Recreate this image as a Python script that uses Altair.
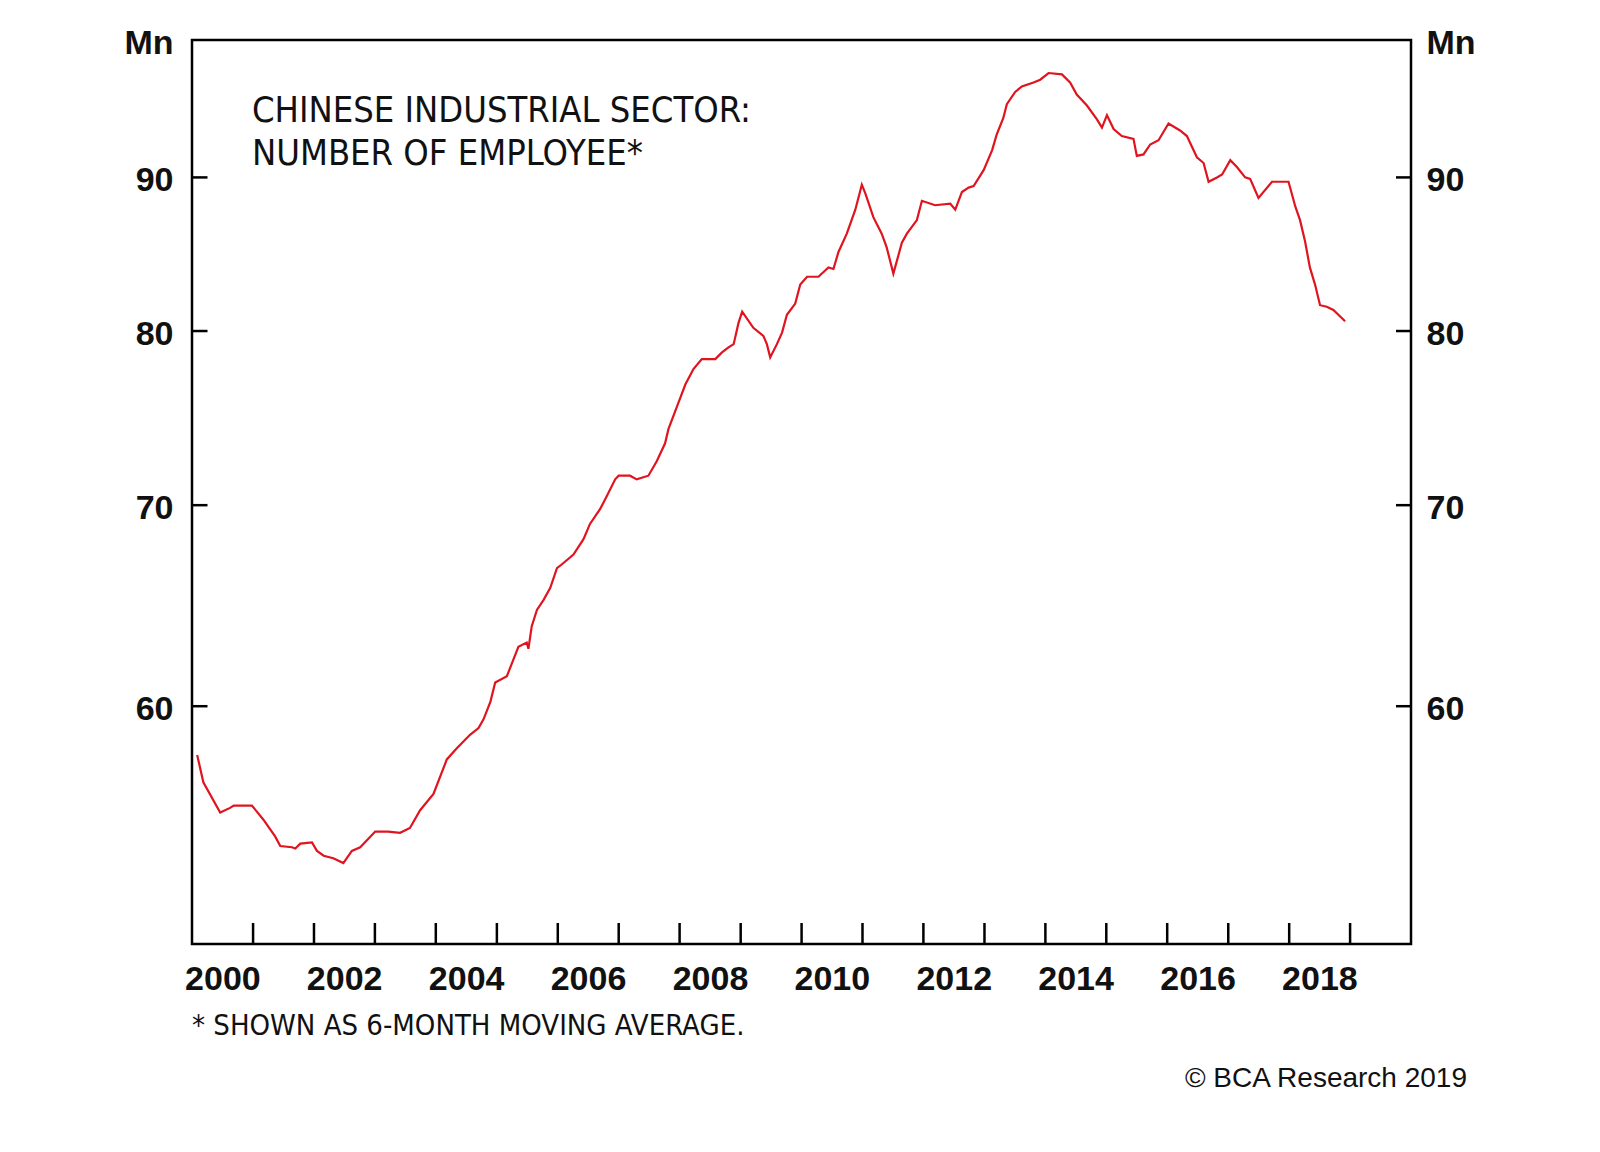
import altair as alt
import pandas as pd

# ---- data (6-month moving average, millions) ----
dates = [
    "2000-02-01", "2000-03-09", "2000-06-18", "2000-08-16", "2000-09-07", "2000-12-25",
    "2001-03-04", "2001-05-13", "2001-06-13", "2001-08-22", "2001-09-11", "2001-10-11",
    "2001-12-20", "2002-01-19", "2002-02-28", "2002-04-27", "2002-06-26", "2002-08-16",
    "2002-10-05", "2003-01-03", "2003-03-22", "2003-06-01", "2003-07-30", "2003-09-29",
    "2003-12-18", "2004-03-07", "2004-05-06", "2004-07-24", "2004-09-13", "2004-10-13",
    "2004-11-23", "2004-12-22", "2005-03-02", "2005-04-01", "2005-05-10", "2005-06-29",
    "2005-07-09", "2005-07-29", "2005-08-29", "2005-10-08", "2005-11-17", "2005-12-27",
    "2006-01-26", "2006-04-05", "2006-06-04", "2006-07-13", "2006-09-12", "2006-10-22",
    "2006-12-11", "2007-01-01", "2007-03-10", "2007-04-19", "2007-06-28", "2007-08-17",
    "2007-10-06", "2007-10-26", "2008-01-05", "2008-02-05", "2008-03-24", "2008-05-13",
    "2008-08-02", "2008-09-11", "2008-10-20", "2008-11-20", "2008-12-19", "2009-01-10",
    "2009-03-18", "2009-05-17", "2009-06-07", "2009-06-27", "2009-08-06", "2009-09-06",
    "2009-10-05", "2009-11-24", "2009-12-24", "2010-02-03", "2010-04-12", "2010-06-11",
    "2010-07-11", "2010-08-10", "2010-09-29", "2010-11-19", "2010-12-28", "2011-01-18",
    "2011-03-07", "2011-04-26", "2011-05-26", "2011-07-05", "2011-08-25", "2011-09-24",
    "2011-11-23", "2011-12-23", "2012-03-11", "2012-06-10", "2012-07-10", "2012-08-19",
    "2012-09-28", "2012-10-28", "2012-12-27", "2013-02-16", "2013-03-15", "2013-04-24",
    "2013-05-15", "2013-07-04", "2013-08-13", "2013-10-22", "2013-12-01", "2014-01-20",
    "2014-04-10", "2014-05-29", "2014-07-08", "2014-09-07", "2014-11-06", "2014-12-06",
    "2015-01-05", "2015-02-14", "2015-04-04", "2015-06-13", "2015-07-03", "2015-08-12",
    "2015-09-21", "2015-11-10", "2016-01-09", "2016-03-18", "2016-04-28", "2016-06-27",
    "2016-08-06", "2016-09-05", "2016-10-25", "2016-11-25", "2017-01-13", "2017-02-23",
    "2017-04-12", "2017-05-12", "2017-07-01", "2017-09-20", "2017-12-28", "2018-02-07",
    "2018-03-07", "2018-04-06", "2018-05-05", "2018-06-05", "2018-07-05", "2018-08-14",
    "2018-09-23", "2018-12-02",
]
employees = [
    57.8, 56.6, 55.3, 55.5, 55.6, 55.6,
    55.0, 54.3, 53.9, 53.85, 53.8, 54.0,
    54.05, 53.7, 53.5, 53.4, 53.2, 53.7,
    53.85, 54.5, 54.5, 54.45, 54.65, 55.4,
    56.1, 57.6, 58.1, 58.7, 59.0, 59.4,
    60.2, 61.1, 61.4, 62.0, 62.8, 63.0,
    62.7, 63.8, 64.6, 65.1, 65.7, 66.7,
    66.9, 67.4, 68.2, 69.0, 69.8, 70.5,
    71.4, 71.6, 71.6, 71.4, 71.6, 72.4,
    73.4, 74.2, 76.0, 76.8, 77.7, 78.3,
    78.3, 78.7, 79.0, 79.2, 80.5, 81.2,
    80.2, 79.7, 79.2, 78.4, 79.2, 79.9,
    81.0, 81.7, 82.9, 83.4, 83.4, 84.0,
    83.9, 85.0, 86.2, 87.8, 89.5, 88.9,
    87.3, 86.2, 85.3, 83.6, 85.6, 86.2,
    87.1, 88.4, 88.1, 88.2, 87.8, 89.0,
    89.3, 89.4, 90.5, 91.9, 93.0, 94.2,
    95.2, 96.1, 96.5, 96.8, 97.0, 97.5,
    97.4, 96.8, 95.9, 95.1, 94.1, 93.5,
    94.4, 93.4, 92.9, 92.7, 91.5, 91.6,
    92.3, 92.6, 93.8, 93.3, 92.9, 91.4,
    91.0, 89.7, 90.0, 90.2, 91.2, 90.7,
    90.0, 89.9, 88.6, 89.7, 89.7, 88.0,
    87.1, 85.7, 84.0, 82.9, 81.6, 81.5,
    81.3, 80.6,
]

y_ticks = [60, 70, 80, 90]
y_label_values = [60, 70, 80, 90, 100]
year_ticks = [f"{y}-01-01" for y in range(2001, 2020)]
label_years = list(range(2000, 2019, 2))

title_lines = ["CHINESE INDUSTRIAL SECTOR:", "NUMBER OF EMPLOYEE*"]
footnote = "* SHOWN AS 6-MONTH MOVING AVERAGE."
credit = "\u00a9 BCA Research 2019"

W, H = 1219, 904
AXIS_FONT = "Liberation Sans, Arial, sans-serif"
NARROW_FONT = "Liberation Sans Narrow, Arial Narrow, DejaVu Sans Condensed, Liberation Sans, sans-serif"

df = pd.DataFrame({"date": dates, "value": employees})
df_yt = pd.DataFrame({"value": y_ticks})
df_xt = pd.DataFrame({"date": year_ticks})

x_dom = [alt.DateTime(year=2000, month=1, date=1, utc=True),
         alt.DateTime(year=2020, month=1, date=1, utc=True)]
x_scale = alt.Scale(domain=x_dom)
y_scale = alt.Scale(type="log", domain=[50, 100], nice=False)

label_vals = [alt.DateTime(year=y, month=7, date=1, utc=True) for y in label_years]

y_axis_common = dict(
    values=y_label_values,
    labelExpr="datum.value == 100 ? 'Mn' : format(datum.value, 'd')",
    grid=False, domain=False, ticks=False, tickSize=0,
    labelFont=AXIS_FONT, labelFontSize=34, labelFontWeight="bold",
    labelColor="#111111", title=None, labelOffset=3,
)

line = alt.Chart(df).mark_line(color="#e0141e", strokeWidth=2.2).encode(
    x=alt.X("date:T", scale=x_scale,
            axis=alt.Axis(values=label_vals, labelExpr="utcFormat(datum.value, '%Y')",
                          grid=False, domain=False, ticks=False, tickSize=0,
                          labelPadding=18, labelFont=AXIS_FONT, labelFontSize=34,
                          labelFontWeight="bold", labelColor="#111111", title=None,
                          labelFlush=False, labelOverlap=False)),
    y=alt.Y("value:Q", scale=y_scale,
            axis=alt.Axis(orient="left", labelPadding=19, labelAlign="right", **y_axis_common)),
)

yt_left = alt.Chart(df_yt).mark_rule(color="black", strokeWidth=2.5).encode(
    y=alt.Y("value:Q", scale=y_scale, axis=None),
    x=alt.value(0), x2=alt.value(15.5),
)

yt_right = alt.Chart(df_yt).mark_rule(color="black", strokeWidth=2.5).encode(
    y=alt.Y("value:Q", scale=y_scale,
            axis=alt.Axis(orient="right", labelPadding=15, labelAlign="left", **y_axis_common)),
    x=alt.value(W - 15), x2=alt.value(W),
)

xt = alt.Chart(df_xt).mark_rule(color="black", strokeWidth=2.5).encode(
    x=alt.X("date:T", scale=x_scale, axis=None),
    y=alt.value(H - 21), y2=alt.value(H),
)

title_txt = alt.Chart(pd.DataFrame({"t": [0]})).mark_text(
    text=title_lines, align="left", baseline="alphabetic", lineHeight=43,
    font=NARROW_FONT, fontSize=36, fontWeight=500, color="#111111",
).encode(x=alt.value(60), y=alt.value(82))

foot_txt = alt.Chart(pd.DataFrame({"t": [0]})).mark_text(
    text=footnote, align="left", baseline="alphabetic",
    font=NARROW_FONT, fontSize=29, fontWeight=500, color="#111111",
).encode(x=alt.value(0), y=alt.value(995))

credit_txt = alt.Chart(pd.DataFrame({"t": [0]})).mark_text(
    text=credit, align="right", baseline="alphabetic",
    font=AXIS_FONT, fontSize=28, color="#111111",
).encode(x=alt.value(1275), y=alt.value(1047))

chart = alt.layer(line, yt_left, yt_right, xt, title_txt, foot_txt, credit_txt).resolve_axis(
    y="independent", x="independent"
).properties(
    width=W, height=H,
    padding={"left": 184, "top": 32, "right": 170, "bottom": 180},
    autosize=alt.AutoSizeParams(type="none"),
    background="white",
).configure_view(stroke="black", strokeWidth=2.5)

chart.save("out.html", embed_options={"renderer": "svg", "actions": False})
